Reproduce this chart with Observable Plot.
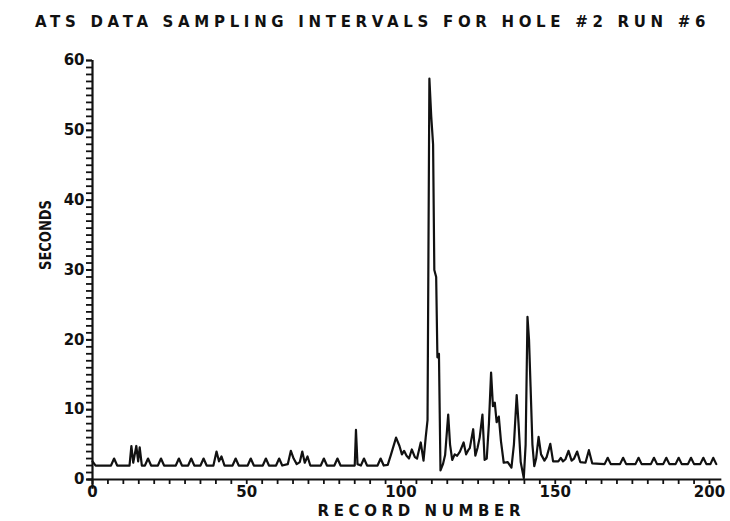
<!DOCTYPE html>
<html>
<head>
<meta charset="utf-8">
<script src="https://cdn.jsdelivr.net/npm/d3@7"></script>
<script src="https://cdn.jsdelivr.net/npm/@observablehq/plot@0.6"></script>
<style>
  html, body { margin: 0; padding: 0; background: #fff; }
  #title { height: 40px; width: 730px; position: relative; font-family: "DejaVu Sans", sans-serif; }
  #title span { position: absolute; left: 35px; top: 13px; font-size: 15px; font-weight: bold; line-height: 18px; white-space: pre; color: #111; }
</style>
</head>
<body>
<div id="title"><span id="tt">ATS DATA SAMPLING INTERVALS FOR HOLE #2 RUN #6</span></div>
<div id="chart"></div>
<script>
// Line vertices: record number and sampling interval (seconds)
const records = [0,1,6,7,8,12,12.6,13.2,14.2,14.8,15.3,16,17,18,19,21.2,22.2,23.2,27,28,29,31,32,33,35,36,37,39.2,40.2,41,41.8,42.8,45.4,46.4,47.4,50.3,51.3,52.3,55.2,56.2,57.2,59.5,60.5,61.5,63.3,64.3,65.2,66.2,67.2,68,68.8,69.7,70.6,74,75,76,78.4,79.4,80.4,85,85.4,85.9,87,88,89,92.4,93.4,94.4,95.7,96.7,98.4,99.5,100.3,101,101.8,102.6,103.5,104.5,105.2,106.4,107.3,108,108.6,109.2,109.8,110.4,110.8,111.4,111.8,112.3,112.8,113.6,114.3,115.3,115.9,116.6,117.4,118.2,119.1,120.3,121.1,121.8,122.3,123.4,124.1,124.8,125.5,126.4,127.1,127.8,128.5,129.2,129.8,130.4,131,131.7,132.4,133.3,134.6,135.8,136.6,137.5,138.1,138.8,139.8,140.4,141,141.5,142,142.6,143.2,143.8,144.6,145.4,146.5,147.2,148.4,149.3,151,151.8,152.5,153.3,154.3,155.3,156.1,157.1,158.1,159.8,160.9,162,166,167,168,171,172,173,176,177,178,181,182,183,185,186,187,189,190,191,193,194,195,197,198,199,200.3,201.2,202.2];
const seconds = [2.6,2.0,2.0,3.0,2.0,2.0,4.8,2.4,4.8,2.6,4.6,2.0,2.0,3.0,2.0,2.0,3.0,2.0,2.0,3.0,2.0,2.0,3.0,2.0,2.0,3.0,2.0,2.0,4.0,2.6,3.3,2.0,2.0,3.0,2.0,2.0,3.0,2.0,2.0,3.0,2.0,2.0,3.0,2.0,2.2,4.1,3.0,2.2,2.5,4.0,2.4,3.3,2.0,2.0,3.0,2.0,2.0,3.0,2.0,2.0,7.1,2.2,2.0,3.0,2.0,2.0,3.0,2.0,2.1,3.5,6.0,4.8,3.6,4.1,3.4,3.0,4.3,3.2,3.0,5.3,2.7,6.0,8.5,57.4,52.0,48.0,30.0,29.0,17.5,18.0,1.3,2.2,3.5,9.3,5.0,2.8,3.6,3.4,4.0,5.3,3.6,4.2,4.5,7.2,3.4,4.5,6.0,9.3,2.8,3.0,8.0,15.3,10.5,11.0,8.2,9.0,5.5,2.4,2.5,1.7,5.0,12.1,8.0,2.5,0.2,5.0,23.3,20.0,13.3,5.0,1.9,3.0,6.1,3.6,2.7,3.2,5.1,2.6,2.6,3.1,2.6,2.9,4.1,2.7,3.0,4.0,2.5,2.4,4.2,2.3,2.2,3.1,2.2,2.2,3.1,2.2,2.2,3.1,2.2,2.2,3.1,2.2,2.2,3.1,2.2,2.2,3.1,2.2,2.2,3.1,2.2,2.2,3.1,2.2,2.2,3.1,2.2];

const xMajorTicks = [0, 50, 100, 150, 200];
const xMinorTicks = d3.range(0, 201, 5);
const yMajorTicks = [0, 10, 20, 30, 40, 50, 60];
const yMinorTicks = d3.range(0, 61, 1);
const xLabel = "RECORD NUMBER";
const yLabel = "SECONDS";

const data = records.map((r, i) => ({record: r, seconds: seconds[i]}));

const ink = "#111";
const chart = Plot.plot({
  width: 730,
  height: 481,
  marginLeft: 92,
  marginRight: 21,
  marginTop: 20,
  marginBottom: 42,
  style: {fontFamily: "DejaVu Sans, sans-serif", background: "#fff", color: ink, overflow: "visible"},
  x: {domain: [0, 200], axis: null},
  y: {domain: [0, 60], axis: null},
  marks: [
    Plot.axisY(yMinorTicks, {tickSize: 6, tickFormat: () => "", label: null, strokeWidth: 1.8, stroke: ink}),
    Plot.axisY(yMajorTicks, {tickSize: 6, tickPadding: 2, fontSize: 15, fontWeight: "bold", label: null, strokeWidth: 1.8, stroke: ink, fill: ink}),
    Plot.axisX(xMinorTicks, {tickSize: 5, tickFormat: () => "", label: null, strokeWidth: 1.8, stroke: ink}),
    Plot.axisX(xMajorTicks, {tickSize: 0, tickPadding: 7, fontSize: 15, fontWeight: "bold", label: null, fill: ink}),
    Plot.ruleX([0], {y1: -1.4, y2: 60, stroke: ink, strokeWidth: 2.2}),
    Plot.ruleY([0], {x1: -1.5, x2: 204, stroke: ink, strokeWidth: 2.2}),
    Plot.line(data, {x: "record", y: "seconds", stroke: ink, strokeWidth: 2.2, strokeLinejoin: "round"}),
    Plot.text([yLabel], {frameAnchor: "left", dx: -46, rotate: -90, fontSize: 15, fontWeight: "bold", fill: ink}),
    Plot.text([xLabel], {frameAnchor: "bottom", dx: 18, dy: 32, fontSize: 15, fontWeight: "bold", fill: ink, lineAnchor: "middle"})
  ]
});
document.getElementById("chart").appendChild(chart);

// fit label widths to the reference lettering
d3.select(chart).selectAll("text").each(function() {
  const t = this.textContent;
  if (t === yLabel) { this.setAttribute("textLength", 70); this.setAttribute("lengthAdjust", "spacingAndGlyphs"); }
  if (t === xLabel) { this.setAttribute("textLength", 203); this.setAttribute("lengthAdjust", "spacing"); }
});

// spread the title across the same width as the reference
const tt = document.getElementById("tt");
const w0 = tt.getBoundingClientRect().width;
const n = tt.textContent.length;
tt.style.letterSpacing = ((675 - w0) / n) + "px";
</script>
</body>
</html>
